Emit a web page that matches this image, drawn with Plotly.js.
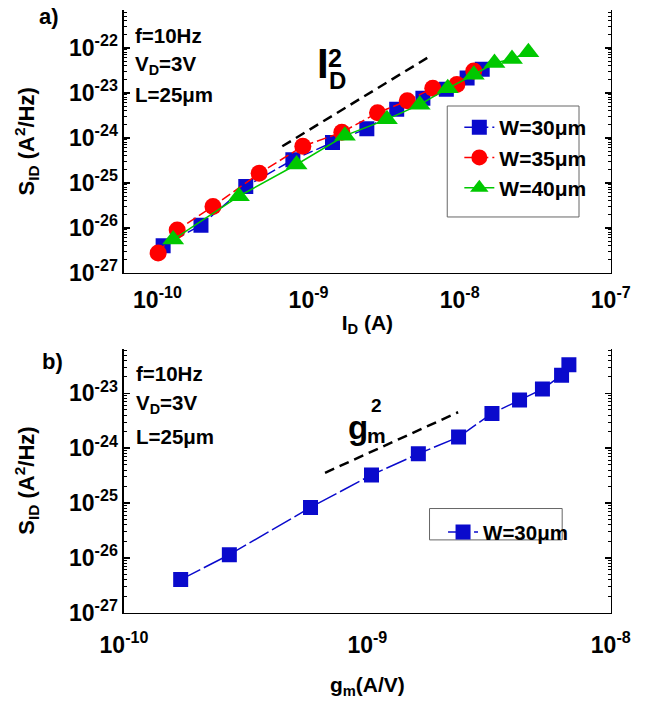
<!DOCTYPE html>
<html>
<head>
<meta charset="utf-8">
<script src="https://cdn.plot.ly/plotly-3.0.1.min.js"></script>
<style>
  html, body { margin: 0; padding: 0; background: #ffffff; }
  #chart { width: 670px; height: 710px; }
</style>
</head>
<body>
<div id="chart"></div>
<script>
// ---------- data ----------
// Panel a: S_ID vs I_D
const idW30 = [1.09e-10, 1.94e-10, 3.84e-10, 7.87e-10, 1.44e-9, 2.43e-9, 3.83e-9, 5.71e-9, 8.16e-9, 1.12e-8, 1.41e-8];
const sW30  = [4.0e-27, 1.14e-26, 8.3e-26, 3.25e-25, 7.9e-25, 1.6e-24, 4.3e-24, 7.6e-24, 1.2e-23, 2.15e-23, 3.35e-23];
const idW35 = [1.01e-10, 1.35e-10, 2.33e-10, 4.71e-10, 9.16e-10, 1.66e-9, 2.86e-9, 4.5e-9, 6.64e-9, 9.58e-9, 1.24e-8];
const sW35  = [2.75e-27, 9.0e-27, 2.99e-26, 1.63e-25, 6.5e-25, 1.33e-24, 3.6e-24, 6.67e-24, 1.27e-23, 1.54e-23, 3.06e-23];
const idW40 = [1.27e-10, 3.46e-10, 8.33e-10, 1.74e-9, 3.30e-9, 5.44e-9, 8.34e-9, 1.24e-8, 1.70e-8, 2.22e-8, 2.85e-8];
const sW40  = [5.5e-27, 5.05e-26, 2.56e-25, 1.12e-24, 2.58e-24, 5.47e-24, 1.26e-23, 2.53e-23, 4.61e-23, 5.64e-23, 7.98e-23];
// Panel b: S_ID vs g_m (W = 30 um)
const gmW30 = [1.71e-10, 2.71e-10, 5.84e-10, 1.04e-9, 1.62e-9, 2.37e-9, 3.25e-9, 4.22e-9, 5.24e-9, 6.28e-9, 6.73e-9];
// Slope guide lines (endpoints)
const guideIdX = [6.7e-10, 6.1e-9];
const guideIdY = [6.5e-25, 6.0e-23];
const guideGmX = [6.7e-10, 2.36e-9];
const guideGmY = [3.55e-25, 4.53e-24];
// Series names
const names = ['W=30\u03bcm', 'W=35\u03bcm', 'W=40\u03bcm'];
// Tick values / labels
const xTickValsA = [1e-10, 1e-9, 1e-8, 1e-7];
const xTickTextA = ['10<sup>-10</sup>', '10<sup>-9</sup>', '10<sup>-8</sup>', '10<sup>-7</sup>'];
const yTickValsA = [1e-27, 1e-26, 1e-25, 1e-24, 1e-23, 1e-22];
const yTickTextA = ['10<sup>-27</sup>', '10<sup>-26</sup>', '10<sup>-25</sup>', '10<sup>-24</sup>', '10<sup>-23</sup>', '10<sup>-22</sup>'];
const xTickValsB = [1e-10, 1e-9, 1e-8];
const xTickTextB = ['10<sup>-10</sup>', '10<sup>-9</sup>', '10<sup>-8</sup>'];
const yTickValsB = [1e-27, 1e-26, 1e-25, 1e-24, 1e-23];
const yTickTextB = ['10<sup>-27</sup>', '10<sup>-26</sup>', '10<sup>-25</sup>', '10<sup>-24</sup>', '10<sup>-23</sup>'];

// ---------- styling ----------
const FAM = 'Liberation Sans, Arial, sans-serif';
const BLUE = '#0a0acc', RED = '#ff0000', GREEN = '#00c800';
const bf = (size) => ({ family: FAM, size: size, color: '#000', weight: 'bold' });

const traces = [
  { x: idW30, y: sW30, name: names[0], mode: 'lines+markers', xaxis: 'x', yaxis: 'y', legend: 'legend',
    line: { color: BLUE, width: 1.5, dash: '10px,4px' }, marker: { symbol: 'square', size: 15, color: BLUE } },
  { x: idW35, y: sW35, name: names[1], mode: 'lines+markers', xaxis: 'x', yaxis: 'y', legend: 'legend',
    line: { color: RED, width: 1.5, dash: '10px,4px' }, marker: { symbol: 'circle', size: 17, color: RED } },
  { x: idW40, y: sW40, name: names[2], mode: 'lines+markers', xaxis: 'x', yaxis: 'y', legend: 'legend',
    line: { color: GREEN, width: 1.5 }, marker: { symbol: 'triangle-up', size: 19, color: GREEN } },
  { x: guideIdX, y: guideIdY, mode: 'lines', xaxis: 'x', yaxis: 'y', showlegend: false,
    line: { color: '#000', width: 2.5, dash: '10px,6px' } },
  { x: gmW30, y: sW30, name: names[0], mode: 'lines+markers', xaxis: 'x2', yaxis: 'y2', legend: 'legend2',
    line: { color: BLUE, width: 1.5, dash: '22px,4px' }, marker: { symbol: 'square', size: 15, color: BLUE } },
  { x: guideGmX, y: guideGmY, mode: 'lines', xaxis: 'x2', yaxis: 'y2', showlegend: false,
    line: { color: '#000', width: 2.5, dash: '10px,6px' } }
];

const minorTicks = { ticks: 'inside', ticklen: 3, tickwidth: 1, tickcolor: '#000', dtick: 'D1', showgrid: false };
const axBase = {
  type: 'log', showgrid: false, zeroline: false, showline: true, linecolor: '#000', linewidth: 1.5,
  mirror: 'allticks', ticks: 'inside', ticklen: 6, tickwidth: 1.5, tickcolor: '#000',
  tickmode: 'array', tickfont: bf(23), automargin: true, minor: minorTicks
};
// x axes carrying the labels: transparent outside ticks push the labels down a little
const xLabelBase = {
  type: 'log', showgrid: false, zeroline: false, showline: true, linecolor: '#000', linewidth: 1.5,
  mirror: false, ticks: 'outside', tickwidth: 1, tickcolor: 'rgba(0,0,0,0)',
  tickmode: 'array', tickfont: bf(23), automargin: true
};
// overlay x axes drawing the inside ticks (major + minor) on bottom and top
const xTickBase = {
  type: 'log', showgrid: false, zeroline: false, showline: true, linecolor: '#000', linewidth: 1.5,
  mirror: 'allticks', ticks: 'inside', ticklen: 6, tickwidth: 1.5, tickcolor: '#000',
  tickmode: 'array', showticklabels: false, autorange: false, minor: minorTicks
};

const rangeXA = [Math.log10(6e-11), -7];
const rangeXB = [-10, -8];

const layout = {
  width: 670, height: 710,
  margin: { l: 0, r: 0, t: 0, b: 0 },
  paper_bgcolor: '#fff', plot_bgcolor: '#fff',
  font: { family: FAM, color: '#000' },
  xaxis: Object.assign({}, xLabelBase, {
    domain: [0.1597, 0.9373], anchor: 'y', ticklen: 6,
    range: rangeXA, tickvals: xTickValsA, ticktext: xTickTextA,
    title: { text: 'I<sub>D</sub> (A)', font: bf(21), standoff: 3 }
  }),
  xaxis3: Object.assign({}, xTickBase, {
    overlaying: 'x', anchor: 'y', side: 'bottom',
    range: rangeXA, tickvals: xTickValsA
  }),
  yaxis: Object.assign({}, axBase, {
    domain: [0.6085, 0.9859], anchor: 'x',
    range: [-27, Math.log10(7e-22)], tickvals: yTickValsA, ticktext: yTickTextA,
    title: { text: 'S<sub>ID</sub> (A<sup>2</sup>/Hz)', font: bf(22), standoff: 28 }
  }),
  xaxis2: Object.assign({}, xLabelBase, {
    domain: [0.1597, 0.9373], anchor: 'y2', ticklen: 11,
    range: rangeXB, tickvals: xTickValsB, ticktext: xTickTextB,
    title: { text: 'g<sub>m</sub>(A/V)', font: bf(21), standoff: 20 }
  }),
  xaxis4: Object.assign({}, xTickBase, {
    overlaying: 'x2', anchor: 'y2', side: 'bottom',
    range: rangeXB, tickvals: xTickValsB
  }),
  yaxis2: Object.assign({}, axBase, {
    domain: [0.1211, 0.5], anchor: 'x2',
    range: [-27, Math.log10(6.6e-23)], tickvals: yTickValsB, ticktext: yTickTextB,
    title: { text: 'S<sub>ID</sub> (A<sup>2</sup>/Hz)', font: bf(22), standoff: 28 }
  }),
  legend: {
    x: 0.6954, y: 0.8465, xanchor: 'left', yanchor: 'top',
    bgcolor: 'rgba(0,0,0,0)', borderwidth: 0, font: bf(21), tracegroupgap: 0
  },
  legend2: {
    x: 0.6694, y: 0.265, xanchor: 'left', yanchor: 'top',
    bgcolor: 'rgba(0,0,0,0)', borderwidth: 0, font: bf(20.5)
  },
  shapes: [
    { type: 'rect', xref: 'paper', yref: 'paper', x0: 0.6761, x1: 0.8866, y0: 0.6887, y1: 0.8479,
      line: { color: '#666', width: 1 }, fillcolor: 'rgba(0,0,0,0)', layer: 'below' },
    { type: 'rect', xref: 'paper', yref: 'paper', x0: 0.6478, x1: 0.8597, y0: 0.2254, y1: 0.2704,
      line: { color: '#666', width: 1 }, fillcolor: 'rgba(0,0,0,0)', layer: 'below' }
  ],
  annotations: [
    { text: 'a)', xref: 'paper', yref: 'paper', x: 0.0403, y: 0.976, showarrow: false, font: bf(22), xanchor: 'center', yanchor: 'middle' },
    { text: 'b)', xref: 'paper', yref: 'paper', x: 0.0463, y: 0.4817, showarrow: false, font: bf(22), xanchor: 'center', yanchor: 'middle' },
    { text: 'f=10Hz', xref: 'paper', yref: 'paper', x: 0.1746, y: 0.9493, showarrow: false, font: bf(20.5), xanchor: 'left', yanchor: 'middle' },
    { text: 'V<sub>D</sub>=3V', xref: 'paper', yref: 'paper', x: 0.1746, y: 0.907, showarrow: false, font: bf(20.5), xanchor: 'left', yanchor: 'middle' },
    { text: 'L=25\u03bcm', xref: 'paper', yref: 'paper', x: 0.1746, y: 0.8648, showarrow: false, font: bf(20.5), xanchor: 'left', yanchor: 'middle' },
    { text: 'f=10Hz', xref: 'paper', yref: 'paper', x: 0.176, y: 0.4648, showarrow: false, font: bf(20.5), xanchor: 'left', yanchor: 'middle' },
    { text: 'V<sub>D</sub>=3V', xref: 'paper', yref: 'paper', x: 0.176, y: 0.4197, showarrow: false, font: bf(20.5), xanchor: 'left', yanchor: 'middle' },
    { text: 'L=25\u03bcm', xref: 'paper', yref: 'paper', x: 0.176, y: 0.3732, showarrow: false, font: bf(20.5), xanchor: 'left', yanchor: 'middle' },
    { text: 'I', xref: 'paper', yref: 'paper', x: 0.4776, y: 0.9085, showarrow: false, font: bf(42), xanchor: 'center', yanchor: 'middle' },
    { text: '2', xref: 'paper', yref: 'paper', x: 0.497, y: 0.9169, showarrow: false, font: bf(25), xanchor: 'center', yanchor: 'middle' },
    { text: 'D', xref: 'paper', yref: 'paper', x: 0.500, y: 0.8845, showarrow: false, font: bf(24), xanchor: 'center', yanchor: 'middle' },
    { text: 'g', xref: 'paper', yref: 'paper', x: 0.5343, y: 0.3873, showarrow: false, font: bf(33), xanchor: 'center', yanchor: 'middle' },
    { text: '2', xref: 'paper', yref: 'paper', x: 0.5627, y: 0.4183, showarrow: false, font: bf(19), xanchor: 'center', yanchor: 'middle' },
    { text: 'm', xref: 'paper', yref: 'paper', x: 0.5627, y: 0.3746, showarrow: false, font: bf(21), xanchor: 'center', yanchor: 'middle' }
  ]
};

Plotly.newPlot('chart', traces, layout, { staticPlot: true, displayModeBar: false });
</script>
</body>
</html>
